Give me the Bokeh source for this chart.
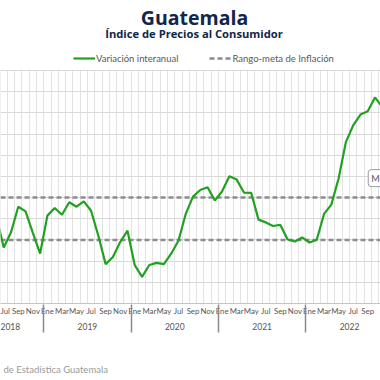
from bokeh.plotting import figure
from bokeh.layouts import column
from bokeh.models import (Range1d, FixedTicker, LinearAxis, Label, Span,
                          Legend, LegendItem, ColumnDataSource)
from bokeh.embed import file_html
from bokeh.resources import INLINE

# ---------------- data ----------------
month_names = ["Ene", "Feb", "Mar", "Abr", "May", "Jun",
               "Jul", "Ago", "Sep", "Oct", "Nov", "Dic"]
year_labels = ["2018", "2019", "2020", "2021", "2022"]
start_year = 2018
start_month = 6  # Jun 2018
inflacion = [4.10, 2.64, 3.36, 4.57, 4.35, 3.34, 2.36,                          # Jun-Dic 2018
             4.15, 4.51, 4.19, 4.78, 4.57, 4.82, 4.38, 3.20, 1.86, 2.20, 2.90, 3.44,  # 2019
             1.81, 1.26, 1.82, 1.92, 1.86, 2.35, 2.96, 4.23, 5.05, 5.36, 5.49, 4.86,  # 2020
             5.30, 6.01, 5.85, 5.24, 5.22, 3.96, 3.83, 3.66, 3.71, 3.02, 2.93, 3.12,  # 2021
             2.88, 3.01, 4.23, 4.67, 5.90, 7.62, 8.41, 8.92, 9.08, 9.73, 9.28]        # Ene-Nov 2022
meta_min = 3.0
meta_max = 5.0
y_ticks = list(range(0, 12))

# month index: Ene 2019 = 0
xs = []
for k in range(len(inflacion)):
    m = start_month - 1 + k
    yr = start_year + m // 12
    xs.append((yr - 2019) * 12 + m % 12)

# ---------------- geometry ----------------
W = 380
HEAD_H = 69
MAIN_H = 271
FOOT_H = 40
BOTTOM = 37
PXM = 7.28              # px per month
X0 = 46.9               # px of Ene 2019 centre
x_start = -X0 / PXM
x_end = (W - X0) / PXM

NAVY = "#10264a"
GREEN = "#22a022"
DASH = "#8c8c8c"
LABEL = "#555555"

# ---------------- main chart ----------------
p = figure(width=W, height=MAIN_H, x_range=Range1d(x_start, x_end),
           y_range=Range1d(0, 11.05), output_backend="svg",
           toolbar_location=None, min_border_top=0, min_border_bottom=BOTTOM,
           min_border_left=0, min_border_right=0, outline_line_color=None)
p.yaxis.visible = False

p.xgrid.ticker = FixedTicker(ticks=[i + 0.5 for i in range(-9, 48)])
p.xgrid.grid_line_color = "#e2e2e2"
p.ygrid.ticker = FixedTicker(ticks=y_ticks)
p.ygrid.grid_line_color = "#d9d9d9"

# month labels
label_ticks = [i for i in range(-12, 48) if i % 2 == 0]
year_starts = [(int(y) - 2019) * 12 for y in year_labels]
xa = p.xaxis[0]
xa.ticker = FixedTicker(ticks=label_ticks)
xa.major_label_overrides = {i: month_names[i % 12] for i in label_ticks}
xa.major_tick_line_color = None
xa.minor_tick_line_color = None
xa.major_tick_out = 0
xa.major_tick_in = 0
xa.minor_tick_out = 0
xa.minor_tick_in = 0
xa.axis_line_color = "#c4c4c4"
xa.major_label_standoff = 2
xa.major_label_text_font = "Lato"
xa.major_label_text_font_size = "7.8px"
xa.major_label_text_color = LABEL

# year labels
year_centers = [max(s + 5.5, x_start + 0.06) for s in year_starts]
ya = LinearAxis(ticker=FixedTicker(ticks=year_centers),
                major_label_overrides={c: t for c, t in zip(year_centers, year_labels)})
ya.axis_line_color = None
ya.major_tick_line_color = None
ya.minor_tick_line_color = None
ya.major_tick_out = 0
ya.minor_tick_out = 0
ya.major_label_standoff = 4
ya.major_label_text_font = "Lato"
ya.major_label_text_font_size = "8.5px"
ya.major_label_text_color = LABEL
p.add_layout(ya, "below")

# year separators (minor ticks pointing up through both label rows)
sa = LinearAxis(ticker=FixedTicker(ticks=[], minor_ticks=[s - 0.5 for s in year_starts]))
sa.axis_line_color = None
sa.major_tick_line_color = None
sa.major_tick_out = 0
sa.major_tick_in = 0
sa.minor_tick_out = 0
sa.minor_tick_in = 28
sa.minor_tick_line_color = "#8a8a8a"
sa.minor_tick_line_width = 1.5
sa.major_label_standoff = 0
sa.major_label_text_font_size = "1px"
p.add_layout(sa, "below")

for lvl in (meta_min, meta_max):
    p.add_layout(Span(location=lvl, dimension="width", line_color=DASH,
                      line_width=2.5, line_dash="5 3", level="underlay"))

src = ColumnDataSource(dict(x=xs, y=inflacion, lo=[meta_min] * len(xs)))
p.line("x", "y", source=src, line_color=GREEN, line_width=2.2)

p.add_layout(Label(x=44.07, y=5.92, text="Meta", text_baseline="middle",
                   text_font="Lato", text_font_size="9px", text_color=LABEL,
                   border_line_color="#999999", background_fill_color="white",
                   padding=3, border_radius=3))

# ---------------- header: titles + legend ----------------
head = figure(width=W, height=HEAD_H, x_range=Range1d(0, W), y_range=Range1d(0, HEAD_H),
              output_backend="svg", toolbar_location=None, min_border=0,
              x_axis_location=None, y_axis_location=None, outline_line_color=None)
head.grid.visible = False
h1 = head.line("x", "y", source=src, line_color=GREEN, line_width=2.2, visible=False)
h2 = head.line("x", "lo", source=src, line_color=DASH, line_width=2.5,
               line_dash="5 3", visible=False)
head.add_layout(Label(x=194, y=HEAD_H - 17, text="Guatemala", text_align="center",
                      text_baseline="alphabetic", text_font="Open Sans",
                      text_font_style="bold", text_font_size="19.5px", text_color=NAVY))
head.add_layout(Label(x=193.5, y=HEAD_H - 32.5, text="Índice de Precios al Consumidor",
                      text_align="center", text_baseline="alphabetic",
                      text_font="Open Sans", text_font_style="bold",
                      text_font_size="11.2px", text_color=NAVY))
legend = Legend(items=[LegendItem(label="Variación interanual", renderers=[h1]),
                       LegendItem(label="Rango-meta de Inflación", renderers=[h2])],
                location=(73, 5), orientation="horizontal",
                spacing=31, glyph_width=22, glyph_height=12, label_height=12,
                label_standoff=1, padding=0, margin=0,
                border_line_color=None, background_fill_alpha=0,
                inactive_fill_alpha=0,
                label_text_font="Lato", label_text_font_size="9.5px",
                label_text_color="#595959")
head.add_layout(legend)

# ---------------- footer: source ----------------
foot = figure(width=W, height=FOOT_H, x_range=Range1d(0, W), y_range=Range1d(0, FOOT_H),
              output_backend="svg", toolbar_location=None, min_border=0,
              x_axis_location=None, y_axis_location=None, outline_line_color=None)
foot.grid.visible = False
foot.add_layout(Label(x=3, y=FOOT_H - 29, text="de Estadística Guatemala",
                      text_baseline="middle", text_font="Lato",
                      text_font_size="9.5px", text_color="#9a9a9a"))

layout = column(head, p, foot, spacing=0)
open("out.html", "w").write(file_html(layout, INLINE))
